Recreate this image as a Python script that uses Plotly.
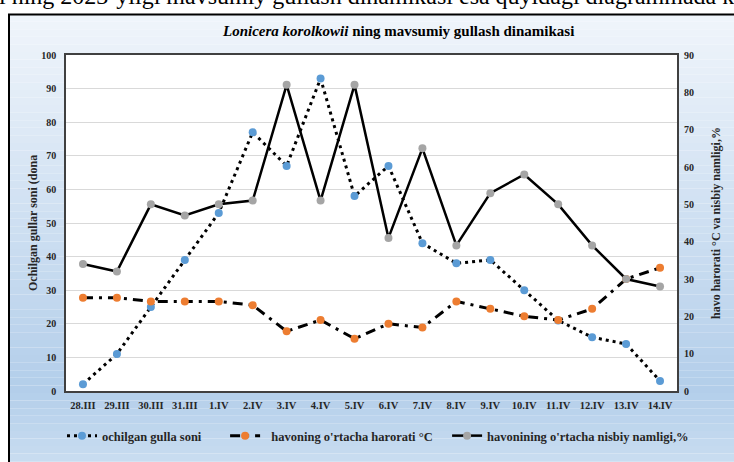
import plotly.graph_objects as go

categories = ["28.III", "29.III", "30.III", "31.III", "1.IV", "2.IV", "3.IV", "4.IV", "5.IV",
              "6.IV", "7.IV", "8.IV", "9.IV", "10.IV", "11.IV", "12.IV", "13.IV", "14.IV"]
flowers = [2, 11, 25, 39, 53, 77, 67, 93, 58, 67, 44, 38, 39, 30, 21, 16, 14, 3]
temperature = [25, 25, 24, 24, 24, 23, 16, 19, 14, 18, 17, 24, 22, 20, 19, 22, 30, 33]
humidity = [34, 32, 50, 47, 50, 51, 82, 51, 82, 41, 65, 39, 53, 58, 50, 39, 30, 28]

left_ticks = list(range(0, 101, 10))
right_ticks = list(range(0, 91, 10))

series_names = ["ochilgan gulla soni",
                "havoning o'rtacha harorati °C",
                "havonining o'rtacha nisbiy namligi,%"]

W, H = 734, 462
L, R, T, B = 66, 57, 55, 70
PW, PH = W - L - R, H - T - B

def px(x):
    return (x - L) / PW

def py(y):
    return (H - B - y) / PH

FONT = "Liberation Serif"
NB = "\u00a0"

fig = go.Figure()

fig.add_trace(go.Scatter(
    x=categories, y=flowers, name=series_names[0] + NB * 6, mode="lines+markers",
    line=dict(color="black", width=3, dash="3px,4px"),
    marker=dict(color="#5b9bd5", size=8, line=dict(width=0)),
))
fig.add_trace(go.Scatter(
    x=categories, y=temperature, name=NB * 2 + series_names[1] + NB * 3, mode="lines+markers",
    line=dict(color="black", width=3, dash="10px,6px,3px,6px"),
    marker=dict(color="#ed7d31", size=8, line=dict(width=0)),
    yaxis="y2",
))
fig.add_trace(go.Scatter(
    x=categories, y=humidity, name=series_names[2], mode="lines+markers",
    line=dict(color="black", width=2.5),
    marker=dict(color="#a5a5a5", size=8, line=dict(width=0)),
    yaxis="y2",
))

# gradient background (chart area box)
shapes = []
top_px, mid_px, bot_px = 14, 390, 470
c_top = (240, 245, 251)
c_mid = (179, 206, 234)
c_bot = (203, 222, 241)
n = 60
def lerp(a, b, t):
    return tuple(int(round(a[i] + (b[i] - a[i]) * t)) for i in range(3))
for i in range(n):
    y0 = top_px + (bot_px - top_px) * i / n
    y1 = top_px + (bot_px - top_px) * (i + 1) / n
    ym = (y0 + y1) / 2
    if ym <= mid_px:
        c = lerp(c_top, c_mid, (ym - top_px) / (mid_px - top_px))
    else:
        c = lerp(c_mid, c_bot, (ym - mid_px) / (bot_px - mid_px))
    shapes.append(dict(type="rect", xref="paper", yref="paper", layer="below",
                       x0=px(9), x1=px(740), y0=py(y1), y1=py(y0),
                       fillcolor="rgb(%d,%d,%d)" % c, line=dict(width=0)))
# white plot area
shapes.append(dict(type="rect", xref="x domain", yref="y domain", layer="below",
                   x0=0, x1=1, y0=0, y1=1, fillcolor="white", line=dict(width=0)))
# chart box border
shapes.append(dict(type="rect", xref="paper", yref="paper", layer="above",
                   x0=px(9), x1=px(745), y0=py(475), y1=py(14.5),
                   fillcolor="rgba(0,0,0,0)", line=dict(color="black", width=2)))

annotations = [
    dict(text="i ning 2023-yilgi mavsumiy gullash dinamikasi esa quyidagi diagrammada ko",
         xref="paper", yref="paper", x=px(-3), y=py(-4), xanchor="left", yanchor="middle",
         showarrow=False, font=dict(family=FONT, size=24, color="black")),
    dict(text="<b><i>Lonicera korolkowii</i> ning mavsumiy gullash dinamikasi</b>",
         xref="paper", yref="paper", x=px(398), y=py(31), xanchor="center", yanchor="middle",
         showarrow=False, font=dict(family=FONT, size=15, color="black")),
    dict(text="<b>Ochilgan gullar soni (dona</b>", textangle=-90,
         xref="paper", yref="paper", x=px(33), y=0.5, xanchor="center", yanchor="middle",
         showarrow=False, font=dict(family=FONT, size=12, color="#262626")),
    dict(text="<b>havo harorati °C va nisbiy namligi,%</b>", textangle=-90,
         xref="paper", yref="paper", x=px(716), y=0.5, xanchor="center", yanchor="middle",
         showarrow=False, font=dict(family=FONT, size=12, color="#262626")),
]

tickfont = dict(family=FONT, size=10, color="#262626", weight="bold")

fig.update_layout(
    width=W, height=H,
    margin=dict(l=L, r=R, t=T, b=B, pad=0),
    paper_bgcolor="white",
    plot_bgcolor="rgba(0,0,0,0)",
    shapes=shapes,
    annotations=annotations,
    showlegend=True,
    legend=dict(orientation="h", x=px(62), xanchor="left", y=py(436), yanchor="middle",
                bgcolor="rgba(0,0,0,0)",
                font=dict(family=FONT, size=12.5, color="#262626", weight="bold"),
                itemwidth=30, tracegroupgap=0),
    xaxis=dict(type="category", range=[-0.5, len(categories) - 0.5],
               showgrid=False, showline=True, linecolor="#404040", linewidth=1.5, mirror=True,
               ticks="", tickfont=dict(family=FONT, size=10.5, color="#262626", weight="bold"),
               ticklabelstandoff=4, zeroline=False),
    yaxis=dict(range=[0, 100], tickvals=left_ticks, showgrid=True, gridcolor="#d9d9d9",
               gridwidth=1, showline=True, linecolor="#404040", linewidth=1.5, mirror=True,
               ticks="", tickfont=tickfont, ticklabelstandoff=6, zeroline=False),
    yaxis2=dict(range=[0, 90], tickvals=right_ticks, overlaying="y", side="right",
                showgrid=False, showline=False, ticks="", tickfont=tickfont,
                ticklabelstandoff=6, zeroline=False),
)

fig.write_html("out.html", config={"displayModeBar": False},
               post_script="document.body.style.margin='0px';document.body.style.overflow='hidden';")
